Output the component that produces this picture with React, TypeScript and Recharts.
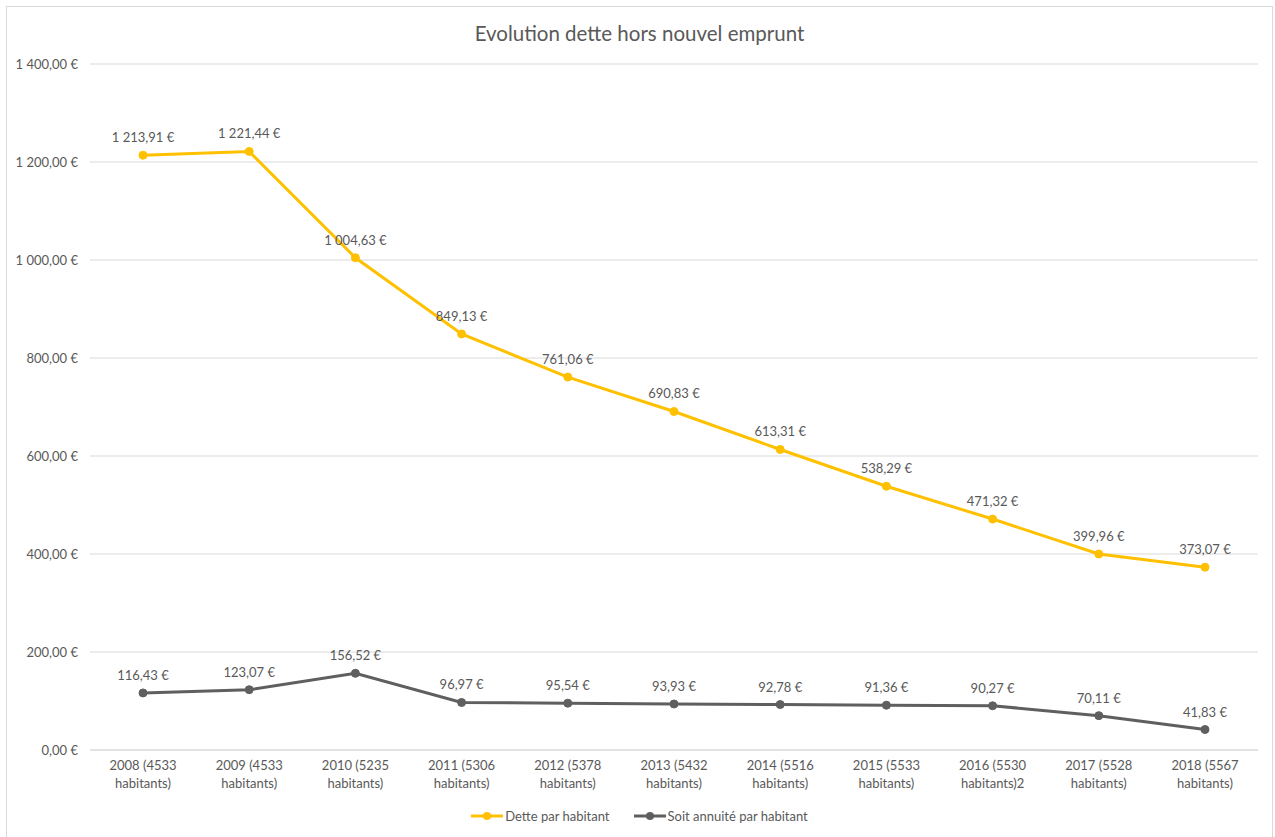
import React from 'react';
import { LineChart, Line, XAxis, YAxis, CartesianGrid, LabelList } from 'recharts';

const categories = [
  '2008 (4533 habitants)',
  '2009 (4533 habitants)',
  '2010 (5235 habitants)',
  '2011 (5306 habitants)',
  '2012 (5378 habitants)',
  '2013 (5432 habitants)',
  '2014 (5516 habitants)',
  '2015 (5533 habitants)',
  '2016 (5530 habitants)2',
  '2017 (5528 habitants)',
  '2018 (5567 habitants)',
];
const dette = [1213.91, 1221.44, 1004.63, 849.13, 761.06, 690.83, 613.31, 538.29, 471.32, 399.96, 373.07];
const annuite = [116.43, 123.07, 156.52, 96.97, 95.54, 93.93, 92.78, 91.36, 90.27, 70.11, 41.83];
const yTicks = [0, 200, 400, 600, 800, 1000, 1200, 1400];

const data = categories.map((c, i) => ({ cat: c, dette: dette[i], annuite: annuite[i] }));

const FONT = 'Lato, "Open Sans", sans-serif';
const TEXT = '#595959';
const YELLOW = '#FFC000';
const GRAY = '#5f5f5f';

function fmt(v: number): string {
  const fixed = Math.abs(v).toFixed(2);
  const [intPart, dec] = fixed.split('.');
  const withSpaces = intPart.replace(/\B(?=(\d{3})+(?!\d))/g, ' ');
  return withSpaces + ',' + dec + ' €';
}

const XTick = (props: any) => {
  const { x, y, payload } = props;
  const s: string = payload.value;
  const idx = s.indexOf(' habitants');
  const l1 = s.slice(0, idx);
  const l2 = s.slice(idx + 1);
  return (
    <g transform={`translate(${x},${y})`}>
      <text textAnchor="middle" fill={TEXT} fontSize={13} fontFamily={FONT}>
        <tspan x={0} dy={12}>{l1}</tspan>
        <tspan x={0} dy={18}>{l2}</tspan>
      </text>
    </g>
  );
};

const LegendItem = ({ color, label }: { color: string; label: string }) => (
  <div style={{ display: 'flex', alignItems: 'center', marginRight: 24 }}>
    <svg width={32} height={12} style={{ marginRight: 2 }}>
      <line x1={0} y1={6} x2={32} y2={6} stroke={color} strokeWidth={3} />
      <circle cx={16} cy={6} r={4} fill={color} />
    </svg>
    <span style={{ color: TEXT, fontSize: 13, fontFamily: FONT }}>{label}</span>
  </div>
);

export default function App() {
  return (
    <div style={{ position: 'absolute', left: 6, top: 6, width: 1267, height: 835, border: '1px solid #d9d9d9', boxSizing: 'border-box', background: '#fff' }}>
      <div style={{ position: 'absolute', top: 14, left: 0, width: '100%', textAlign: 'center', color: TEXT, fontSize: 20.5, fontFamily: FONT }}>
        Evolution dette hors nouvel emprunt
      </div>
      <div style={{ position: 'absolute', left: 0, top: 0 }}>
        <LineChart width={1265} height={831} data={data} margin={{ top: 57, right: 14, bottom: 40, left: 0 }}>
          <CartesianGrid horizontal vertical={false} stroke="#d9d9d9" />
          <XAxis dataKey="cat" interval={0} tick={<XTick />} tickLine={false} axisLine={{ stroke: '#d9d9d9' }} height={48} padding={{ left: 53, right: 53 }} />
          <YAxis domain={[0, 1400]} ticks={yTicks} tickFormatter={fmt} width={83} axisLine={false} tickLine={false} tickMargin={6} tick={{ fill: TEXT, fontSize: 13, fontFamily: FONT }} />
          <Line dataKey="dette" stroke={YELLOW} strokeWidth={3} dot={{ r: 4, fill: YELLOW, stroke: YELLOW, strokeWidth: 1 }} isAnimationActive={false}>
            <LabelList dataKey="dette" position="top" offset={13} formatter={(v: any) => fmt(Number(v))} style={{ fill: TEXT, fontSize: 13, fontFamily: FONT }} />
          </Line>
          <Line dataKey="annuite" stroke={GRAY} strokeWidth={3} dot={{ r: 4, fill: GRAY, stroke: GRAY, strokeWidth: 1 }} isAnimationActive={false}>
            <LabelList dataKey="annuite" position="top" offset={13} formatter={(v: any) => fmt(Number(v))} style={{ fill: TEXT, fontSize: 13, fontFamily: FONT }} />
          </Line>
        </LineChart>
      </div>
      <div style={{ position: 'absolute', top: 801, left: 0, width: '100%', display: 'flex', justifyContent: 'center', paddingLeft: 24, boxSizing: 'border-box' }}>
        <LegendItem color={YELLOW} label="Dette par habitant" />
        <LegendItem color={GRAY} label="Soit annuité par habitant" />
      </div>
    </div>
  );
}
